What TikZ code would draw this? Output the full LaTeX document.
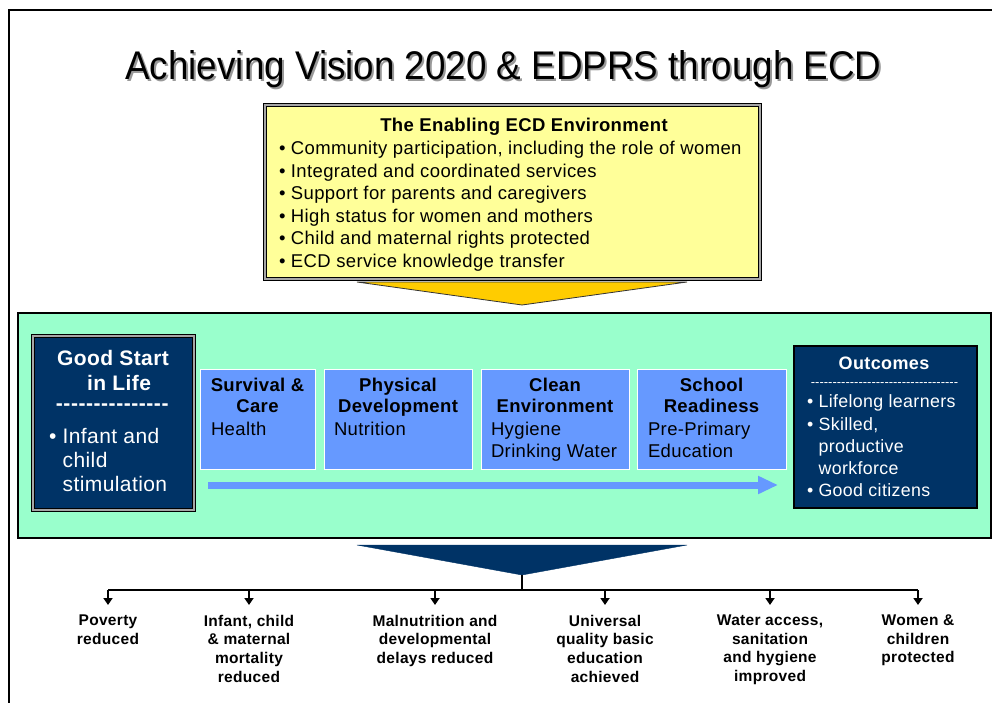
\documentclass[tikz,border=0pt]{standalone}
\usepackage{fontspec}
\setmainfont{Liberation Sans}[LetterSpace=2.0]
\newfontfamily\titlefont[FakeStretch=0.92]{Liberation Sans}
\usetikzlibrary{arrows.meta}
\definecolor{ylw}{HTML}{FFFF99}
\definecolor{gold}{HTML}{FFCC00}
\definecolor{mint}{HTML}{99FFCC}
\definecolor{navy}{HTML}{003366}
\definecolor{sky}{HTML}{6699FF}
\newcommand\hyph[2]{\foreach \i in {1,...,#1}{\hbox{-}\kern#2}}
\newcommand\shadowed[1]{\rlap{\kern2pt\raisebox{-2pt}{\color{gray!80}#1}}#1}
\begin{document}
\begin{tikzpicture}[x=1pt,y=-1pt,
  dbl/.style={draw=black, line width=1.1pt, double=gray!70, double distance=1.1pt},
  boxshape/.style={rectangle, inner sep=0pt, outer sep=0pt},
  bluebox/.style={boxshape, fill=sky, draw=white, line width=0.8pt, minimum height=100pt},
  txt/.style={inner sep=0pt, outer sep=0pt},
  body/.style={txt, font=\fontsize{18.5}{22.6}\selectfont, align=left},
  bhead/.style={txt, font=\bfseries\fontsize{18.5}{21.5}\selectfont, align=center},
  bbody/.style={txt, font=\fontsize{18.5}{21.5}\selectfont, align=left, anchor=north west},
  wbody/.style={txt, text=white, align=left, anchor=north west},
  res/.style={txt, font=\bfseries\fontsize{15.5}{18.6}\selectfont, align=center, anchor=north},
  arr/.style={line width=1.8pt, -{Triangle[length=7pt,width=9pt]}, shorten >=10pt}
]
\useasboundingbox (0,0) rectangle (992,703);
\fill[white] (0,0) rectangle (992,703);
% outer frame
\draw[line width=1.6pt] (9,703) -- (9,10) -- (992,10);

% title
\node[txt, anchor=base, font=\titlefont\fontsize{40}{48}\selectfont] (title) at (503.5,80) {\shadowed{Achieving Vision 2020 \& EDPRS through ECD}};

% enabling environment
\node[boxshape, dbl, fill=ylw, minimum width=495pt, minimum height=174pt] (env) at (512.5,192) {};
\node[txt, anchor=north, font=\bfseries\fontsize{18.5}{22.6}\selectfont] (envH) at (524,118.5) {The Enabling ECD Environment};
\node[body, anchor=north west] (envL) at (279,141) {• Community participation, including the role of women\\
• Integrated and coordinated services\\
• Support for parents and caregivers\\
• High status for women and mothers\\
• Child and maternal rights protected\\
• ECD service knowledge transfer};

% yellow funnel
\coordinate (yl) at (357,282);
\coordinate (yr) at (687,282);
\coordinate (yt) at (522,305);
\draw[fill=gold, draw=black!80, line width=0.8pt] (yl) -- (yr) -- (yt) -- cycle;

% green band
\node[boxshape, fill=mint, draw=black, line width=2.4pt, minimum width=973pt, minimum height=225pt] (band) at (504.5,425.5) {};

% good start
\node[boxshape, dbl, fill=navy, minimum width=161pt, minimum height=174pt] (gs) at (113.5,423) {};
\node[txt, anchor=north, text=white, align=center, font=\bfseries\fontsize{21}{25}\selectfont] (gsH) at (113,350) {Good Start\\\hspace*{12pt}in Life};
\node[txt, anchor=base, text=white, font=\bfseries\fontsize{21}{25}\selectfont] (gsD) at (112.5,410) {\hyph{15}{0.55pt}};
\node[wbody, font=\fontsize{21}{24.2}\selectfont] (gsL) at (49,428) {• Infant and\\\phantom{•\ }child\\\phantom{•\ }stimulation};

% blue boxes
\node[bluebox, minimum width=115pt] (surv) at (257.5,419) {};
\node[bluebox, minimum width=148pt] (phys) at (398,419) {};
\node[bluebox, minimum width=148pt] (clean) at (555,419) {};
\node[bluebox, minimum width=149pt] (school) at (711.5,419) {};

\node[bhead, anchor=north] (survH) at (257.5,378) {Survival \&\\Care};
\node[bhead, anchor=north] (physH) at (398,378) {Physical\\Development};
\node[bhead, anchor=north] (cleanH) at (555,378) {Clean\\Environment};
\node[bhead, anchor=north] (schoolH) at (711.5,378) {School\\Readiness};

\node[bbody] (survB) at (211,422.5) {Health};
\node[bbody] (physB) at (334,422.5) {Nutrition};
\node[bbody] (cleanB) at (491,422.5) {Hygiene\\Drinking Water};
\node[bbody] (schoolB) at (648,422.5) {Pre-Primary\\Education};

% progress arrow
\coordinate (as) at (208,485);
\coordinate (ae) at (778,485);
\draw[sky, line width=7pt, -{Triangle[length=20pt,width=17pt]}] (as) -- (ae);

% outcomes
\node[boxshape, fill=navy, draw=black, line width=1.4pt, minimum width=183pt, minimum height=162pt] (out) at (885.5,427) {};
\node[txt, anchor=north, text=white, font=\bfseries\fontsize{18}{22}\selectfont] (outH) at (884,357) {Outcomes};
\node[txt, anchor=base, text=white, font=\fontsize{13}{15}\selectfont] (outD) at (884.5,386) {\hyph{34}{0pt}};
\node[wbody, font=\fontsize{17.8}{22.2}\selectfont] (outL) at (807,395) {• Lifelong learners\\• Skilled,\\\phantom{•\ }productive\\\phantom{•\ }workforce\\• Good citizens};

% navy funnel
\coordinate (nl) at (357,545);
\coordinate (nr) at (687,545);
\coordinate (nt) at (522,575);
\draw[fill=navy, draw=navy] (nl) -- (nr) -- (nt) -- cycle;

% distribution line
\coordinate (hub) at (522,590);
\coordinate (b1) at (108,590);
\coordinate (b2) at (249,590);
\coordinate (b3) at (435,590);
\coordinate (b4) at (605,590);
\coordinate (b5) at (770,590);
\coordinate (b6) at (918,590);
\draw[line width=2pt] (nt) -- (hub);
\draw[line width=2pt] (b1) -- (b6);

\node[res] (r1) at (108,615) {Poverty\\reduced};
\node[res] (r2) at (249,615) {Infant, child\\\& maternal\\mortality\\reduced};
\node[res] (r3) at (435,615) {Malnutrition and\\developmental\\delays reduced};
\node[res] (r4) at (605,615) {Universal\\quality basic\\education\\achieved};
\node[res] (r5) at (770,615) {Water access,\\sanitation\\and hygiene\\improved};
\node[res] (r6) at (918,615) {Women \&\\children\\protected};

\foreach \k in {1,...,6}{\draw[arr] (b\k) -- (r\k.north);}
\end{tikzpicture}
\end{document}
